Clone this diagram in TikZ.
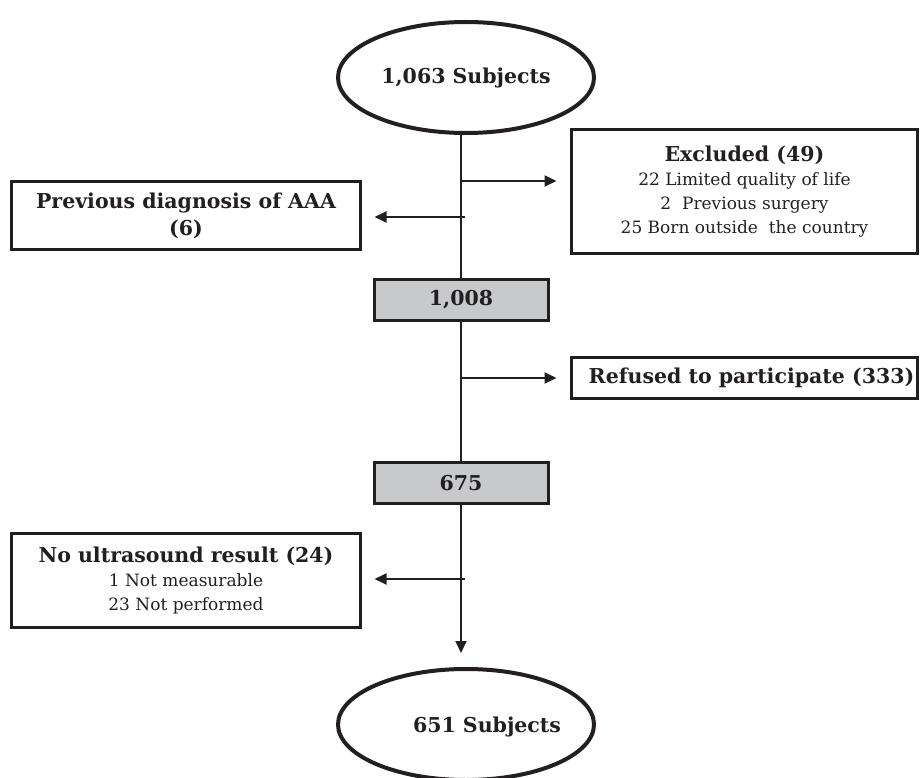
\documentclass[tikz,border=0pt]{standalone}
\usepackage{fontspec}
\setmainfont{DejaVu Serif}
\usepackage{xcolor}
\usetikzlibrary{positioning,arrows.meta,shapes.geometric}
\definecolor{ink}{RGB}{35,31,32}
\definecolor{boxgray}{RGB}{200,201,203}
\newcommand{\hd}[1]{{\fontsize{20.5}{24}\selectfont\bfseries #1}}

\begin{document}
\begin{tikzpicture}[x=1pt,y=-1pt,
	every node/.style={font=\fontsize{17}{24}\selectfont, text=ink},
	subjects/.style={draw=ink, ellipse, line width=4pt, minimum width=256pt, minimum height=111pt, inner sep=0pt},
	infobox/.style={draw=ink, line width=3pt, align=center, inner sep=0pt},
	countbox/.style={draw=ink, fill=boxgray, line width=3pt, minimum width=174pt, minimum height=41pt, inner sep=0pt},
	flow/.style={draw=ink, line width=1.8pt},
	flowarrow/.style={flow, -{Triangle[length=12pt,width=11pt]}}]
	
	\useasboundingbox (0,0) rectangle (921,778);
	
	% main column
	\node[subjects] (start) at (466,77.5) {\hd{1,063 Subjects}};
	\node[countbox] (n1008) at (461,300) {\hd{1,008}};
	\node[countbox] (n675) at (461,483) {\hd{675}};
	\node[subjects] (final) at (466,724.5) {};
	\node (finaltext) at ([xshift=21pt,yshift=-2pt]final.center) {\hd{651 Subjects}};
	
	% side boxes
	\node[infobox, minimum width=346pt, minimum height=124pt] (excl) at (744.5,191.5)
	{\hd{Excluded (49)}\\22 Limited quality of life\\2\ \ Previous surgery\\25 Born outside\ \ the country};
	\node[infobox, minimum width=349pt, minimum height=68pt] (prev) at (186,215.5)
	{\hd{Previous diagnosis of AAA}\\[3pt]\hd{(6)}};
	\node[infobox, minimum width=346pt, minimum height=41pt] (refused) at (744.5,378)
	{\hspace*{14pt}\hd{Refused to participate (333)}};
	\node[infobox, minimum width=349pt, minimum height=94pt] (nous) at (186,580.5)
	{\hd{No ultrasound result (24)}\\1 Not measurable\\23 Not performed};
	
	\coordinate (toexcl) at (461,181);
	\coordinate (toprev) at (465,217);
	\coordinate (torefused) at (461,378);
	\coordinate (tonous) at (465,579);
	
	\draw[flow] (n1008.north |- start.south) -- (n1008.north);
	\draw[flow] (n1008.south) -- (n675.north);
	\draw[flowarrow, shorten >=14pt] (n675.south) -- (n675.south |- final.north);
	
	\draw[flowarrow, shorten >=13.5pt] (toexcl) -- (toexcl -| excl.west);
	\draw[flowarrow, shorten >=12.5pt] (toprev) -- (toprev -| prev.east);
	\draw[flowarrow, shorten >=13.5pt] (torefused) -- (torefused -| refused.west);
	\draw[flowarrow, shorten >=12.5pt] (tonous) -- (tonous -| nous.east);
	
\end{tikzpicture}
\end{document}
